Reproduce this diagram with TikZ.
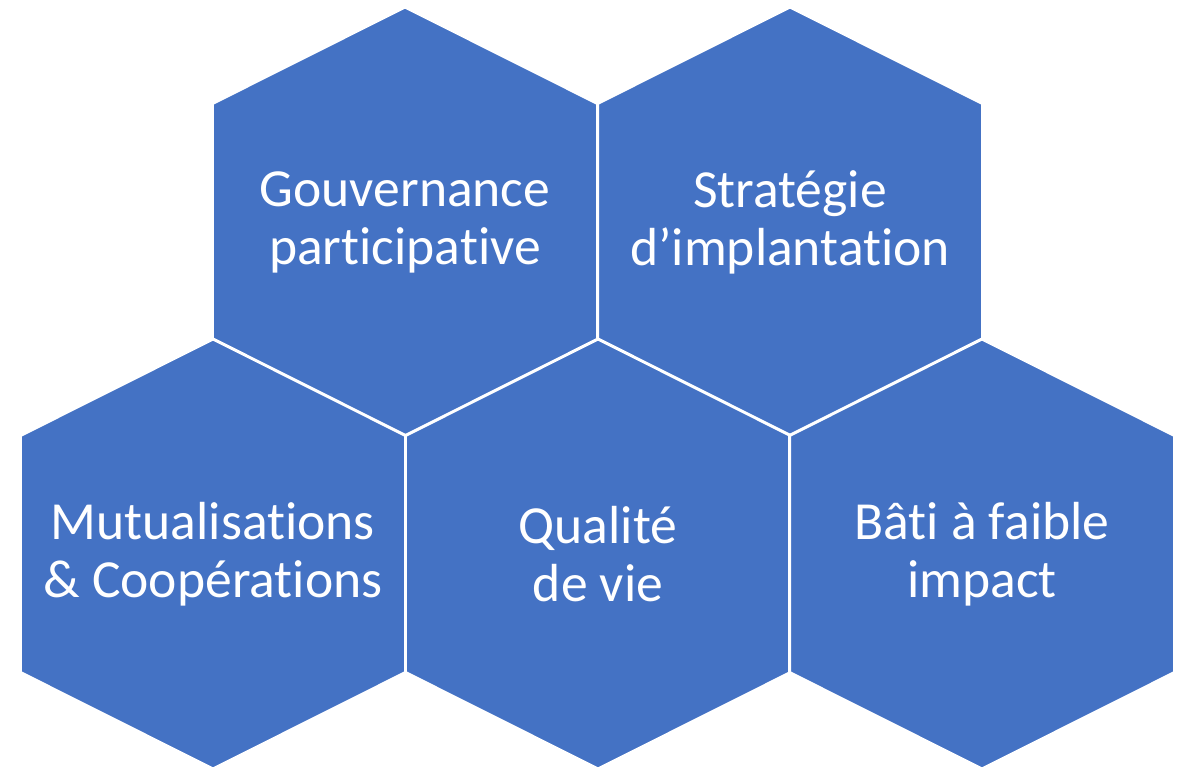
\documentclass[tikz,border=0pt]{standalone}
\usepackage{fontspec}
\setmainfont[RawFeature={-liga;-clig;-calt;-dlig}]{Carlito}
\usepackage{tikz}
\definecolor{hexblue}{HTML}{4472C4}

\begin{document}
\begin{tikzpicture}[x=0.02cm,y=-0.02cm]
            \tikzset{
                hexa/.style={fill=hexblue,draw=white,line width=1.7pt,line join=miter},
                hextext/.style={text=white,align=center,font=\fontsize{30.5}{33}\selectfont},}
            \def\hexpath{+(0,-215) -- +(192.5,-118.5) -- +(192.5,118.5) -- +(0,215) -- +(-192.5,118.5) -- +(-192.5,-118.5) -- cycle}
            \useasboundingbox (0,0) rectangle (1183,767);
            \foreach \nom/\x/\y/\txt in {gouv/405/222/{Gouvernance\\participative},
                strat/790/222/{Stratégie\\d’implantation},
                mutu/213/554/{Mutualisations\\\& Coopérations},
                qual/598/554/{Qualité\\de vie},
                bati/982/554/{Bâti à faible\\impact}}{
                \draw [hexa] (\x,\y) \hexpath;
                \node [hextext] (\nom) at (\x,\y) {\txt};
            }
        \end{tikzpicture}
\end{document}
